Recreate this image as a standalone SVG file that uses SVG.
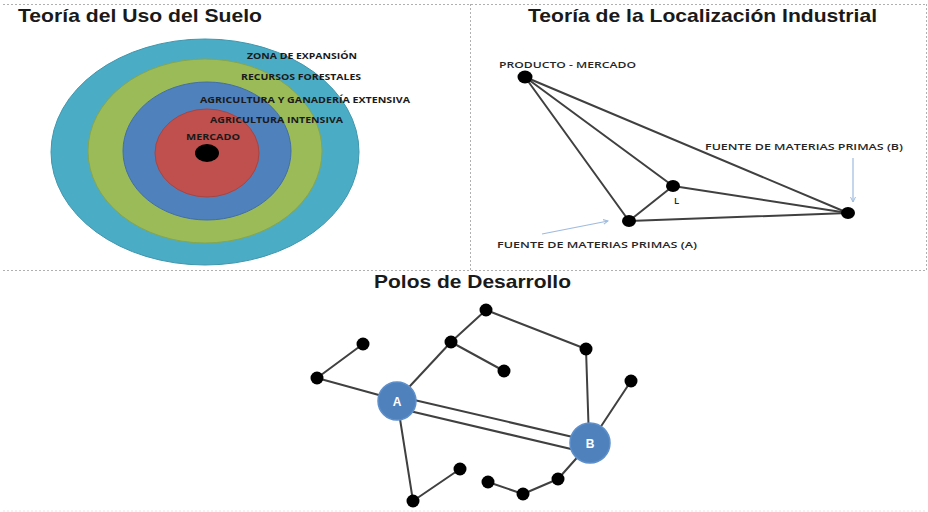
<svg xmlns="http://www.w3.org/2000/svg" width="928" height="512" viewBox="0 0 928 512">
<style>
.title{font-family:"Liberation Sans",Arial,sans-serif;font-weight:bold;font-size:18.5px;fill:#1a1a1a}
.ring{font-family:"Open Sans","Liberation Sans",sans-serif;font-weight:bold;font-size:9px;fill:#1a1a1a}
.lbl{font-family:"Open Sans","Liberation Sans",sans-serif;font-weight:600;font-size:9.5px;fill:#262626}
.edge{stroke:#404040;stroke-width:2;fill:none;stroke-linecap:round}
.dot{fill:#000}
.pole{fill:#4F81BD;stroke:#5d8fcb;stroke-width:1.5}
.poletxt{font-family:"Liberation Sans",Arial,sans-serif;font-weight:bold;font-size:12px;fill:#fff}
.border{stroke:#b0b0b0;stroke-width:1;stroke-dasharray:2,2;fill:none}
.ptr{stroke:#9dbbe0;stroke-width:1.2;fill:none}
</style>
<defs>
<marker id="ah" markerWidth="6" markerHeight="6" refX="5" refY="3" orient="auto" markerUnits="userSpaceOnUse">
<path d="M0,0.5 L5,3 L0,5.5" fill="none" stroke="#9dbbe0" stroke-width="1"/>
</marker>
</defs>
<rect width="928" height="512" fill="#fff"/>
<g id="borders">
<line class="border" x1="3" y1="4.5" x2="927" y2="4.5"/>
<line class="border" x1="470.5" y1="4" x2="470.5" y2="270"/>
<line class="border" x1="3" y1="270.5" x2="927" y2="270.5"/>
<line class="border" x1="926.5" y1="4" x2="926.5" y2="270"/>
<line x1="3" y1="511" x2="927" y2="511" stroke="#e4e4e4" stroke-width="1" stroke-dasharray="2,2"/>
</g>

<!-- Teoría del Uso del Suelo -->
<g id="title-suelo"><text class="title" x="18" y="22" textLength="244" lengthAdjust="spacingAndGlyphs">Teoría del Uso del Suelo</text></g>
<g id="zona-expansion"><ellipse cx="205" cy="152" rx="154" ry="113" fill="#4BACC6" stroke="#3f97ae" stroke-width="1"/></g>
<g id="recursos-forestales"><ellipse cx="205" cy="151" rx="117" ry="92" fill="#9BBB59" stroke="#87a64a" stroke-width="1"/></g>
<g id="agri-extensiva"><ellipse cx="207" cy="151" rx="84" ry="69" fill="#4F81BD" stroke="#426fa6" stroke-width="1"/></g>
<g id="agri-intensiva"><ellipse cx="207" cy="153" rx="52" ry="44" fill="#C0504D" stroke="#a94441" stroke-width="1"/></g>
<g id="mercado"><ellipse cx="207" cy="153" rx="12" ry="9" class="dot"/></g>
<g id="ring-labels">
<text class="ring" x="247" y="59" textLength="110" lengthAdjust="spacingAndGlyphs">ZONA DE EXPANSIÓN</text>
<text class="ring" x="241" y="80" textLength="120" lengthAdjust="spacingAndGlyphs">RECURSOS FORESTALES</text>
<text class="ring" x="200" y="103" textLength="210" lengthAdjust="spacingAndGlyphs">AGRICULTURA Y GANADERÍA EXTENSIVA</text>
<text class="ring" x="210" y="123" textLength="133" lengthAdjust="spacingAndGlyphs">AGRICULTURA INTENSIVA</text>
<text class="ring" x="186" y="140" textLength="54" lengthAdjust="spacingAndGlyphs">MERCADO</text>
</g>

<!-- Teoría de la Localización Industrial -->
<g id="title-industrial"><text class="title" x="528" y="22" textLength="349" lengthAdjust="spacingAndGlyphs">Teoría de la Localización Industrial</text></g>
<g id="industrial-connectors">
<line class="edge" x1="525" y1="77" x2="629" y2="221"/>
<line class="edge" x1="525" y1="77" x2="673" y2="186"/>
<line class="edge" x1="525" y1="77" x2="848" y2="213"/>
<line class="edge" x1="673" y1="186" x2="629" y2="221"/>
<line class="edge" x1="673" y1="186" x2="848" y2="213"/>
<line class="edge" x1="629" y1="221" x2="848" y2="213"/>
<line class="ptr" x1="853" y1="158" x2="853" y2="202" marker-end="url(#ah)"/>
<line class="ptr" x1="542" y1="234" x2="608" y2="221" marker-end="url(#ah)"/>
</g>
<g id="producto-mercado">
<ellipse class="dot" cx="525" cy="77" rx="7.5" ry="6.5"/>
<text class="lbl" x="499" y="68" textLength="137" lengthAdjust="spacingAndGlyphs">PRODUCTO - MERCADO</text>
</g>
<g id="punto-L">
<ellipse class="dot" cx="673" cy="186" rx="7" ry="6"/>
<text class="lbl" x="674" y="204">L</text>
</g>
<g id="fuente-a">
<ellipse class="dot" cx="629" cy="221" rx="7" ry="6"/>
<text class="lbl" x="497" y="248" textLength="200" lengthAdjust="spacingAndGlyphs">FUENTE DE MATERIAS PRIMAS (A)</text>
</g>
<g id="fuente-b">
<ellipse class="dot" cx="848" cy="213" rx="7" ry="6"/>
<text class="lbl" x="705" y="150" textLength="198" lengthAdjust="spacingAndGlyphs">FUENTE DE MATERIAS PRIMAS (B)</text>
</g>

<!-- Polos de Desarrollo -->
<g id="title-polos"><text class="title" x="374" y="288" textLength="197" lengthAdjust="spacingAndGlyphs">Polos de Desarrollo</text></g>
<g id="polos-connectors">
<line class="edge" x1="317" y1="378" x2="363" y2="344"/>
<line class="edge" x1="317" y1="378" x2="397" y2="400"/>
<line class="edge" x1="397" y1="400" x2="451" y2="342"/>
<line class="edge" x1="451" y1="342" x2="486" y2="310"/>
<line class="edge" x1="451" y1="342" x2="504" y2="371"/>
<line class="edge" x1="486" y1="310" x2="586" y2="349"/>
<line class="edge" x1="586" y1="349" x2="589" y2="440"/>
<line class="edge" x1="631" y1="381" x2="590" y2="443"/>
<line class="edge" x1="397" y1="396" x2="590" y2="441"/>
<line class="edge" x1="397" y1="408" x2="588" y2="453"/>
<line class="edge" x1="397" y1="400" x2="413" y2="501"/>
<line class="edge" x1="413" y1="501" x2="460" y2="469"/>
<line class="edge" x1="590" y1="443" x2="558" y2="479"/>
<line class="edge" x1="558" y1="479" x2="523" y2="494"/>
<line class="edge" x1="523" y1="494" x2="488" y2="482"/>
</g>
<g id="n1"><circle class="dot" cx="317" cy="378" r="6.5"/></g>
<g id="n2"><circle class="dot" cx="363" cy="344" r="6.5"/></g>
<g id="n3"><circle class="dot" cx="451" cy="342" r="6.5"/></g>
<g id="n4"><circle class="dot" cx="486" cy="310" r="6.5"/></g>
<g id="n5"><circle class="dot" cx="504" cy="371" r="6.5"/></g>
<g id="n6"><circle class="dot" cx="586" cy="349" r="6.5"/></g>
<g id="n7"><circle class="dot" cx="631" cy="381" r="6.5"/></g>
<g id="n8"><circle class="dot" cx="460" cy="469" r="6.5"/></g>
<g id="n9"><circle class="dot" cx="413" cy="501" r="6.5"/></g>
<g id="n10"><circle class="dot" cx="488" cy="482" r="6.5"/></g>
<g id="n11"><circle class="dot" cx="523" cy="494" r="6.5"/></g>
<g id="n12"><circle class="dot" cx="558" cy="479" r="6.5"/></g>
<g id="polo-A"><circle class="pole" cx="397" cy="401" r="19"/><text class="poletxt" x="397" y="405.5" text-anchor="middle">A</text></g>
<g id="polo-B"><circle class="pole" cx="590" cy="443" r="20"/><text class="poletxt" x="590" y="447.5" text-anchor="middle">B</text></g>
</svg>
